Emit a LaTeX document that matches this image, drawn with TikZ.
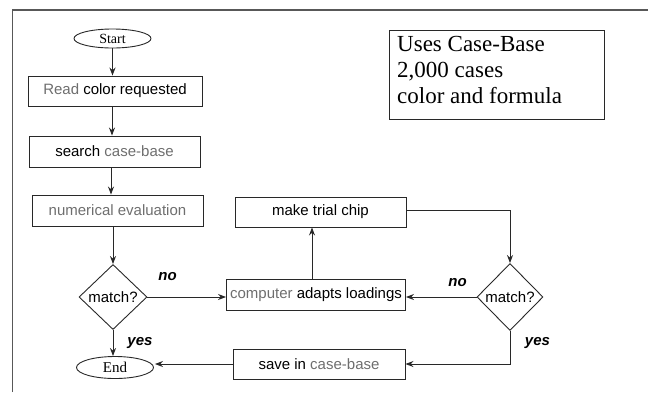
\documentclass[tikz,border=0pt]{standalone}
\usepackage{fontspec}
\setmainfont{Liberation Serif}
\newfontfamily\sansf{Liberation Sans}
\usetikzlibrary{shapes.geometric,arrows.meta}
\definecolor{softgray}{RGB}{110,110,110}
\definecolor{linec}{RGB}{40,40,40}
\tikzset{
  every node/.style={inner sep=0pt},
  flowbox/.style={draw=linec, line width=0.9pt, rectangle, font=\sansf\fontsize{15}{18}\selectfont},
  term/.style={draw=linec, line width=0.9pt, ellipse, font=\fontsize{14}{16}\selectfont},
  decide/.style={draw=linec, line width=0.9pt, diamond, font=\sansf\fontsize{15}{18}\selectfont},
  flow/.style={draw=linec, line width=0.9pt, -{Stealth[length=8pt,width=6pt]}},
  answer/.style={font=\sansf\bfseries\itshape\fontsize{15}{18}\selectfont},
}
\newcommand{\lt}[1]{\textcolor{softgray}{#1}}
\begin{document}
\begin{tikzpicture}[x=1pt,y=-1pt]
\useasboundingbox (0,0) rectangle (648,392);
% page frame (left and top edges)
\draw[draw=softgray!80!black, line width=1.4pt] (12.5,392) -- (12.5,10) -- (648,10);

% left column
\node[term, minimum width=77, minimum height=19] (start) at (112.5,38.5) {Start};
\node[flowbox, minimum width=174, minimum height=30] (read) at (115,91) {\lt{Read} color requested};
\node[flowbox, minimum width=171, minimum height=31] (search) at (114.5,151.5) {search \lt{case-base}};
\node[flowbox, minimum width=171, minimum height=31] (numeric) at (117.5,210.5) {\lt{numerical evaluation}};
\node[decide, minimum width=68, minimum height=65] (matchA) at (113,297) {match?};
\node[term, minimum width=77, minimum height=22, font=\fontsize{15}{17}\selectfont] (end) at (115,367.5) {End};

% middle column
\node[flowbox, minimum width=171, minimum height=30] (trial) at (320.5,212) {make trial chip};
\node[flowbox, minimum width=179, minimum height=31] (adapt) at (316,295) {\lt{computer} adapts loadings};
\node[flowbox, minimum width=172, minimum height=30] (save) at (319,364) {save in \lt{case-base}};

% right decision
\node[decide, minimum width=66, minimum height=67] (matchB) at (510,297) {match?};

% info box
\node[draw=linec, line width=0.9pt, minimum width=215, minimum height=89] (info) at (496.5,74.5) {};
\node[anchor=north west, align=left, font=\fontsize{23}{26}\selectfont] (infotext) at (397,36)
  {Uses Case-Base\\2,000 cases\\color and formula};

% connectors
\draw[flow] (start.south) -- (start.south |- read.north);
\draw[flow] ([xshift=-3pt]read.south) -- ([xshift=-3pt]read.south |- search.north);
\draw[flow] ([xshift=-3.5pt]search.south) -- ([xshift=-3.5pt]search.south |- numeric.north);
\draw[flow] (matchA.north |- numeric.south) -- (matchA.north);
\draw[flow] (matchA.east) -- (adapt.west |- matchA.east);
\draw[flow] (matchA.south) -- (end.north -| matchA.south);
\draw[flow] ([xshift=-4pt]adapt.north) -- ([xshift=-4pt]adapt.north |- trial.south);
\draw[flow] ([yshift=2pt]trial.east) -| (matchB.north);
\draw[flow] (matchB.west) -- (adapt.east |- matchB.west);
\draw[flow] (matchB.south) |- (save.east);
\draw[flow] (save.west) -- ([xshift=1pt]save.west -| end.east);

% branch labels
\node[answer] (noA) at (167.5,277) {no};
\node[answer] (yesA) at (140,343) {yes};
\node[answer] (noB) at (457.5,283) {no};
\node[answer] (yesB) at (537.5,343) {yes};
\end{tikzpicture}
\end{document}
